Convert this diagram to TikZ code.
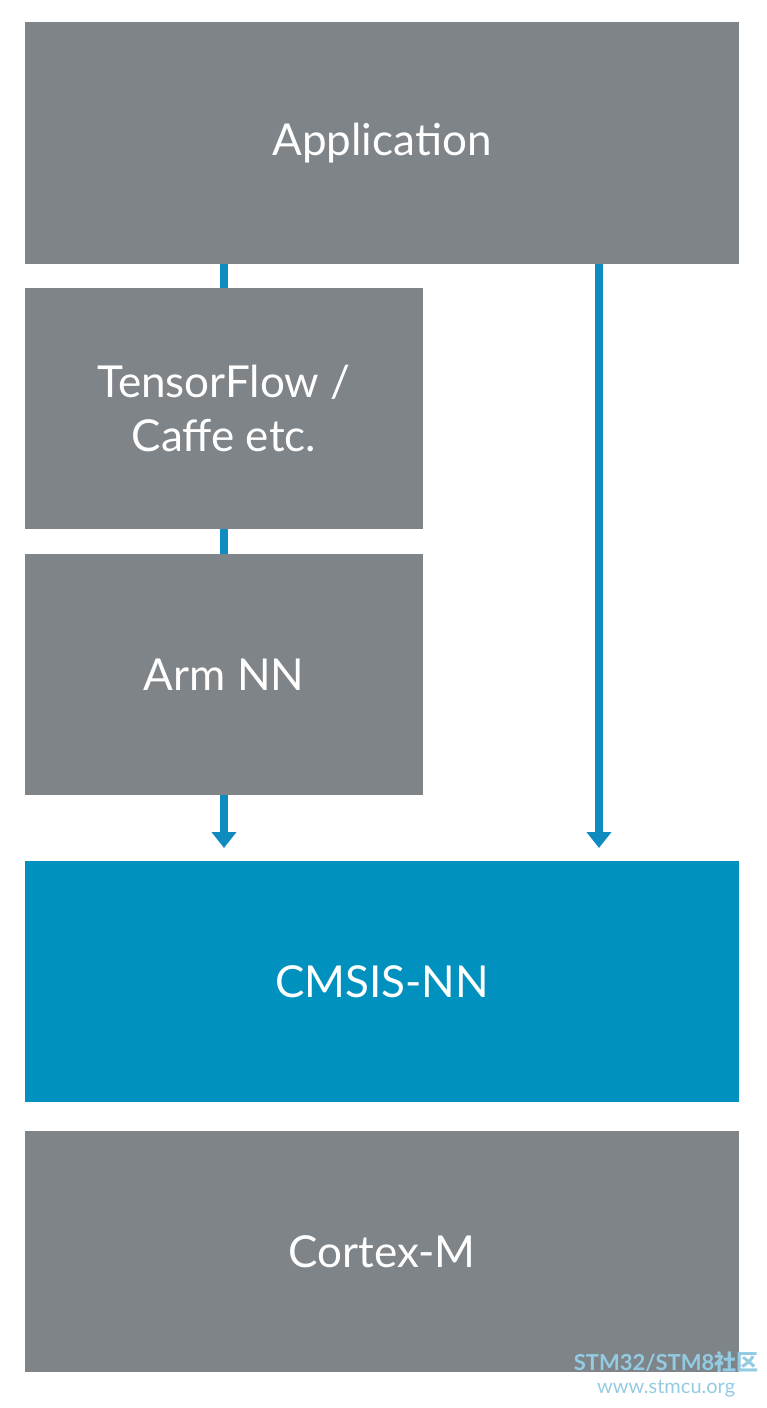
\documentclass[tikz,border=0pt]{standalone}
\usepackage{fontspec}
\setmainfont{Lato}
\newfontfamily\cjk{Noto Sans CJK SC}
\usetikzlibrary{arrows.meta}
\definecolor{layergray}{HTML}{7F8489}
\definecolor{nnblue}{HTML}{0091BE}
\definecolor{linkblue}{HTML}{0E8CC0}
\tikzset{
  layer/.style={fill=layergray,text=white,inner sep=0pt,align=center,
    font=\fontsize{44}{54}\selectfont},
  link/.style={draw=linkblue,line width=8pt},
  flow/.style={link,-{Triangle[width=24pt,length=16pt]}}
}
\begin{document}
\begin{tikzpicture}[x=1pt,y=-1pt]
\useasboundingbox (0,0) rectangle (767,1408);
% layers
\node[layer,minimum width=714pt,minimum height=242pt] (app) at (382,143) {Application};
\node[layer,minimum width=398pt,minimum height=241pt] (tf) at (224,408.5) {TensorFlow /\\Caffe etc.};
\node[layer,minimum width=398pt,minimum height=241pt] (arm) at (224,674.5) {Arm NN};
\node[layer,fill=nnblue,minimum width=714pt,minimum height=241pt] (cmsis) at (382,981.5) {CMSIS-NN};
\node[layer,minimum width=714pt,minimum height=241pt] (cortex) at (382,1251.5) {Cortex-M};
% connectors
\coordinate (armtip) at (224,848);
\coordinate (apptop) at (599,264);
\coordinate (apptip) at (599,848);
\draw[link] (app.south -| tf) -- (tf.north);
\draw[link] (tf.south) -- (arm.north);
\draw[flow] (arm.south) -- (armtip);
\draw[flow] (apptop) -- (apptip);
% watermark
\node[text=linkblue!45,font=\bfseries\fontsize{22}{24}\selectfont,anchor=east] (wm) at (762,1362) {STM32/STM8{\cjk 社区}};
\node[text=linkblue!45,font=\fontsize{20}{22}\selectfont,anchor=north] (url) at (wm.south) {www.stmcu.org};
\end{tikzpicture}
\end{document}
